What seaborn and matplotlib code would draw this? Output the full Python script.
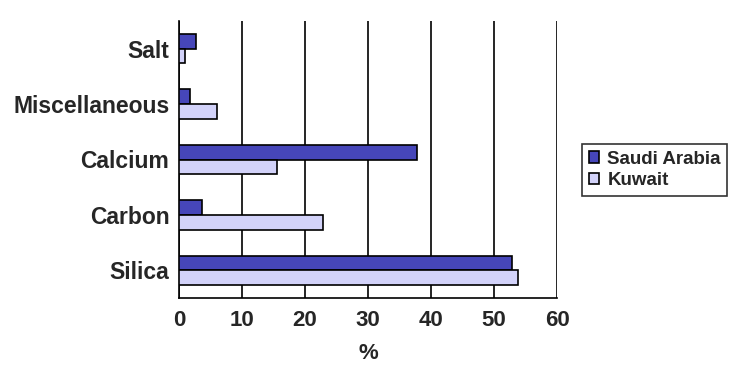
import matplotlib
matplotlib.use("Agg")
import matplotlib.pyplot as plt
import seaborn as sns
import pandas as pd
import numpy as np

categories = ["Salt", "Miscellaneous", "Calcium", "Carbon", "Silica"]
saudi = [2.7, 1.7, 37.8, 3.7, 52.8]
kuwait = [1.0, 6.1, 15.6, 22.9, 53.8]
series = ["Saudi Arabia", "Kuwait"]
xticks = [0, 10, 20, 30, 40, 50, 60]

df = pd.DataFrame({
    "cat": categories * 2,
    "val": saudi + kuwait,
    "series": [series[0]] * len(categories) + [series[1]] * len(categories),
})

sns.set_style("white")
plt.rcParams["font.family"] = ["Liberation Sans", "DejaVu Sans"]
plt.rcParams["font.weight"] = "bold"

fig = plt.figure(figsize=(7.43, 3.80), dpi=100)
ax = fig.add_axes([179/743, 1 - 298/380, (557-179)/743, (298-21)/380])

sns.barplot(data=df, y="cat", x="val", hue="series", orient="h",
            order=categories, hue_order=series,
            palette=["#3333CC", "#CCCCFF"], width=0.53,
            edgecolor="black", linewidth=1.2, ax=ax, zorder=3)

ax.set_xlim(0, 60)
ax.set_ylim(4.5, -0.5)
ax.set_xticks(xticks)
ax.set_xticklabels([str(t) for t in xticks], fontsize=16, fontweight="bold")
ax.set_yticks(range(len(categories)))
ax.set_yticklabels(categories, fontsize=16.5, fontweight="bold")
ax.tick_params(axis="y", which="major", length=0, pad=7)
ax.set_yticks(np.arange(-0.5, 5, 1), minor=True)
ax.tick_params(axis="y", which="minor", length=5, width=1.2, color="black", direction="out")
ax.tick_params(axis="x", which="major", length=6, width=1.2, color="black", direction="out", pad=3)
ax.xaxis.grid(True, color="black", linewidth=1.2, zorder=0)
ax.yaxis.grid(False)
ax.set_axisbelow(True)
for s in ["top", "right"]:
    ax.spines[s].set_visible(False)
for s in ["left", "bottom"]:
    ax.spines[s].set_color("black")
    ax.spines[s].set_linewidth(1.2)
ax.set_xlabel("%", fontsize=16, fontweight="bold", labelpad=8)
ax.set_ylabel("")

h, l = ax.get_legend_handles_labels()
if ax.get_legend():
    ax.get_legend().remove()
leg = fig.legend(h, l, loc="upper left", bbox_to_anchor=(582/743, 1 - 144/380),
                 frameon=True, fancybox=False, shadow=False, fontsize=13.5,
                 handlelength=0.55, handleheight=0.55, handletextpad=0.45,
                 borderpad=0.35, labelspacing=0.25, borderaxespad=0,
                 edgecolor="black")
leg.get_frame().set_linewidth(1.2)

fig.savefig("out.png", dpi=100)
